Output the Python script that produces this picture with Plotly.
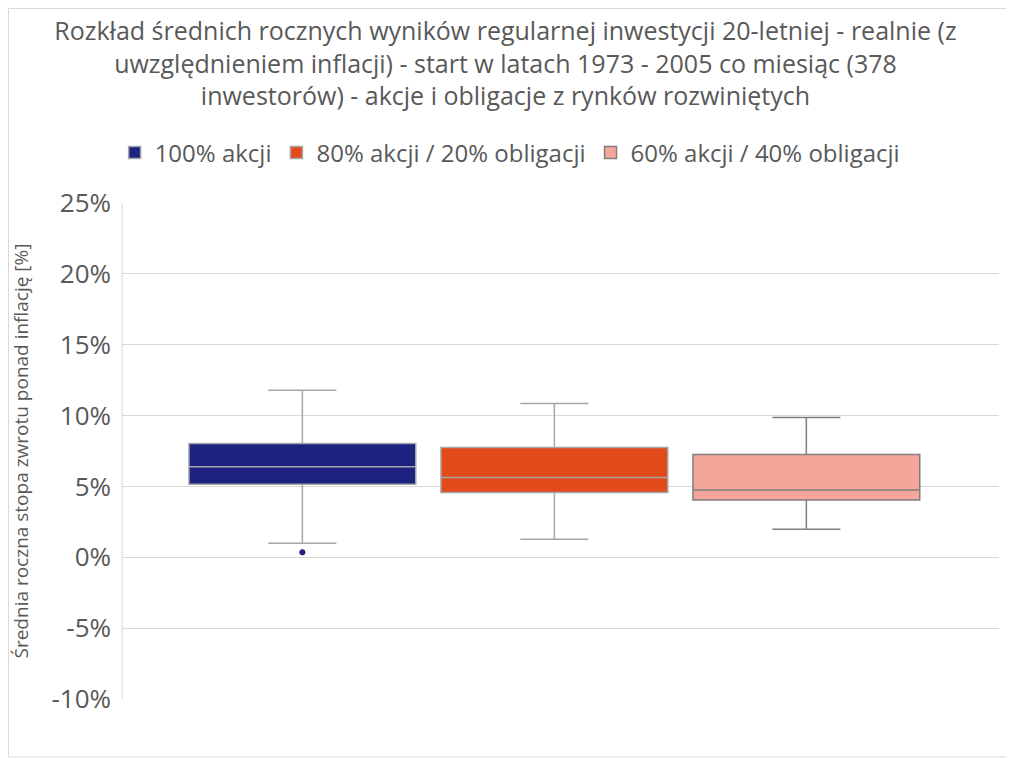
import plotly.graph_objects as go

# statystyki rozkładu, w %
serie = ["100% akcji", "80% akcji / 20% obligacji", "60% akcji / 40% obligacji"]
kolory = ["#1d2180", "#e34a1a", "#f4a69b"]
obrys = ["#a6a6a6", "#a6a6a6", "#7f7f7f"]
dolny_was = [0.99, 1.27, 1.97]
q1 = [5.16, 4.58, 4.04]
mediana = [6.38, 5.63, 4.74]
q3 = [8.03, 7.75, 7.25]
gorny_was = [11.78, 10.85, 9.86]
odstajace = [[0.35], None, None]

y_ticki = [-10, -5, 0, 5, 10, 15, 20, 25]
y_etykiety = ["-10%", "-5%", "0%", "5%", "10%", "15%", "20%", "25%"]

fig = go.Figure()
for i in range(len(serie)):
    box = dict(
        name=serie[i],
        x=[0],
        q1=[q1[i]], median=[mediana[i]], q3=[q3[i]],
        lowerfence=[dolny_was[i]], upperfence=[gorny_was[i]],
        fillcolor=kolory[i],
        line=dict(color=obrys[i], width=1.5),
        marker=dict(color=kolory[i], size=6, line=dict(width=0)),
        whiskerwidth=0.3,
        pointpos=0, jitter=0,
    )
    if odstajace[i]:
        box["y"] = [odstajace[i]]
        box["boxpoints"] = "outliers"
    else:
        box["boxpoints"] = False
    fig.add_trace(go.Box(**box))

# strona ma 8px marginesu body, więc figura jest o 8px mniejsza
fig.update_layout(
    width=1006, height=751,
    margin=dict(l=114, r=15, t=195, b=60, autoexpand=False),
    paper_bgcolor="white", plot_bgcolor="white",
    font=dict(family="Open Sans", color="#595959"),
    boxmode="group", boxgap=0.138, boxgroupgap=0.1,
    showlegend=True,
    title=dict(
        text="Rozkład średnich rocznych wyników regularnej inwestycji 20-letniej - realnie (z<br>"
             "uwzględnieniem inflacji) - start w latach 1973 - 2005 co miesiąc (378<br>"
             "inwestorów) - akcje i obligacje z rynków rozwiniętych",
        xref="container", x=0.4945, xanchor="center",
        yref="container", y=0.957, yanchor="top",
        font=dict(size=25, color="#595959"),
    ),
    legend=dict(
        orientation="h", x=0.442, xanchor="center", y=1.101, yanchor="middle",
        font=dict(size=24, color="#595959"), itemwidth=30,
    ),
    xaxis=dict(range=[-0.493, 0.507], showticklabels=False, showgrid=False,
               zeroline=False, showline=False, ticks="", automargin=False),
    yaxis=dict(range=[-10, 25], tickvals=y_ticki, ticktext=y_etykiety,
               showgrid=True, gridcolor="#d9d9d9", gridwidth=1,
               zeroline=False, showline=False, automargin=False,
               ticklabelstandoff=10,
               tickfont=dict(size=26, color="#595959"),
               title=dict(text="Średnia roczna stopa zwrotu ponad inflację [%]",
                          font=dict(size=19, color="#595959"), standoff=28)),
)
fig.add_shape(type="line", xref="paper", yref="paper", x0=0, x1=0, y0=0, y1=1,
              line=dict(color="#d9d9d9", width=1))
fig.add_shape(type="rect", xref="paper", yref="paper",
              x0=-113.5 / 877, x1=1.0154, y0=-0.117, y1=690.5 / 496,
              line=dict(color="#d9d9d9", width=1))

fig.write_html("out.html")
